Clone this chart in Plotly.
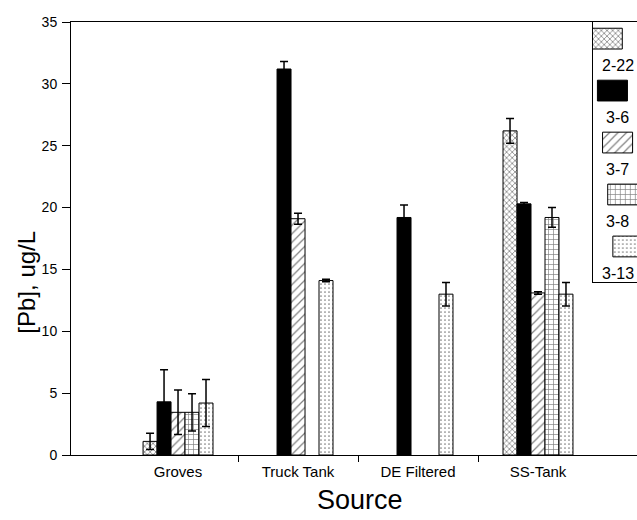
import plotly.graph_objects as go

categories = ["Groves", "Truck Tank", "DE Filtered", "SS-Tank"]
series_names = ["2-22", "3-6", "3-7", "3-8", "3-13"]

pb_2_22 = [1.1, None, None, 26.2]
pb_3_6 = [4.3, 31.2, 19.2, 20.3]
pb_3_7 = [3.45, 19.1, None, 13.1]
pb_3_8 = [3.45, None, None, 19.2]
pb_3_13 = [4.2, 14.1, 13.0, 13.0]

err_2_22 = [0.65, 0, 0, 1.0]
err_3_6 = [2.6, 0.6, 1.0, 0.1]
err_3_7 = [1.8, 0.45, 0, 0.1]
err_3_8 = [1.5, 0, 0, 0.8]
err_3_13 = [1.9, 0.1, 0.95, 0.95]

y_ticks = [0, 5, 10, 15, 20, 25, 30, 35]

values = [pb_2_22, pb_3_6, pb_3_7, pb_3_8, pb_3_13]
errors = [err_2_22, err_3_6, err_3_7, err_3_8, err_3_13]
patterns = [
    dict(shape="x", size=4, solidity=0.35, fgcolor="black", bgcolor="white"),
    dict(shape="", fgcolor="black", bgcolor="black"),
    dict(shape="/", size=6, solidity=0.2, fgcolor="black", bgcolor="white"),
    dict(shape="+", size=5, solidity=0.25, fgcolor="black", bgcolor="white"),
    dict(shape=".", size=4, solidity=0.15, fgcolor="black", bgcolor="white"),
]
fills = ["white", "black", "white", "white", "white"]

FONT = "Liberation Sans Narrow, Arial Narrow, Liberation Sans, Arial, sans-serif"
REG = "Liberation Sans, Arial, sans-serif"

xpos = list(range(len(categories)))

fig = go.Figure()
for name, vals, errs, pat, fill in zip(series_names, values, errors, patterns, fills):
    fig.add_trace(go.Bar(
        x=xpos, y=vals, name=name, showlegend=False,
        marker=dict(color=fill, pattern=pat, line=dict(color="black", width=1)),
        error_y=dict(type="data", array=errs, symmetric=True, color="black",
                     thickness=1.5, width=4),
        xaxis="x", yaxis="y",
    ))

# custom legend (swatch above label) in a small inset subplot
n = len(series_names)
for i, (name, pat, fill) in enumerate(zip(series_names, patterns, fills)):
    fig.add_trace(go.Bar(
        x=[0.56], y=[0.40], base=[i + 0.12], width=[0.68], showlegend=False,
        marker=dict(color=fill, pattern=pat, line=dict(color="black", width=1)),
        xaxis="x3", yaxis="y3", hoverinfo="skip",
    ))
    fig.add_annotation(x=0.56, y=i + 0.84, xref="x3", yref="y3", text=name,
                       showarrow=False, font=dict(family=FONT, size=16, color="black"))

fig.update_layout(
    width=637, height=520,
    margin=dict(l=71, r=0, t=22, b=65),
    paper_bgcolor="white", plot_bgcolor="white",
    barmode="group", bargap=0.417, bargroupgap=0,
    showlegend=False,
    xaxis=dict(
        range=[-0.892, 3.825], tickmode="array", tickvals=xpos, ticktext=categories,
        ticks="", showgrid=False, zeroline=False,
        showline=True, linecolor="black", linewidth=1, mirror=True,
        tickfont=dict(family=FONT, size=15, color="black"),
        minor=dict(tickmode="array", tickvals=[0.5, 1.5, 2.5], ticks="outside",
                   ticklen=6, tickcolor="black", showgrid=False),
        ticklabelstandoff=3,
    ),
    yaxis=dict(
        range=[0, 35], tickmode="array", tickvals=y_ticks,
        ticks="outside", ticklen=8, tickcolor="black",
        showgrid=False, zeroline=False,
        showline=True, linecolor="black", linewidth=1,
        tickfont=dict(family=FONT, size=14, color="black"),
        ticklabelstandoff=2,
    ),
    xaxis3=dict(domain=[0.922, 1.0], range=[0, 1], anchor="y3",
                showticklabels=False, ticks="", showgrid=False, zeroline=False,
                showline=True, mirror=True, linecolor="black", linewidth=1),
    yaxis3=dict(domain=[0.40, 1.0], range=[n, 0], anchor="x3",
                showticklabels=False, ticks="", showgrid=False, zeroline=False,
                showline=True, mirror=True, linecolor="black", linewidth=1),
)

fig.add_annotation(text="[Pb], ug/L", textangle=-90, showarrow=False,
                   xref="paper", yref="paper", x=-0.078, y=0.40,
                   xanchor="center", yanchor="middle",
                   font=dict(family=REG, size=24, color="black"))
fig.add_annotation(text="Source", showarrow=False,
                   xref="paper", yref="paper", x=0.51, y=-0.104,
                   xanchor="center", yanchor="middle",
                   font=dict(family=FONT, size=27, color="black"))

fig.write_html("out.html", config={"displayModeBar": False},
               post_script="document.body.style.margin='0';document.body.style.overflow='hidden';")
